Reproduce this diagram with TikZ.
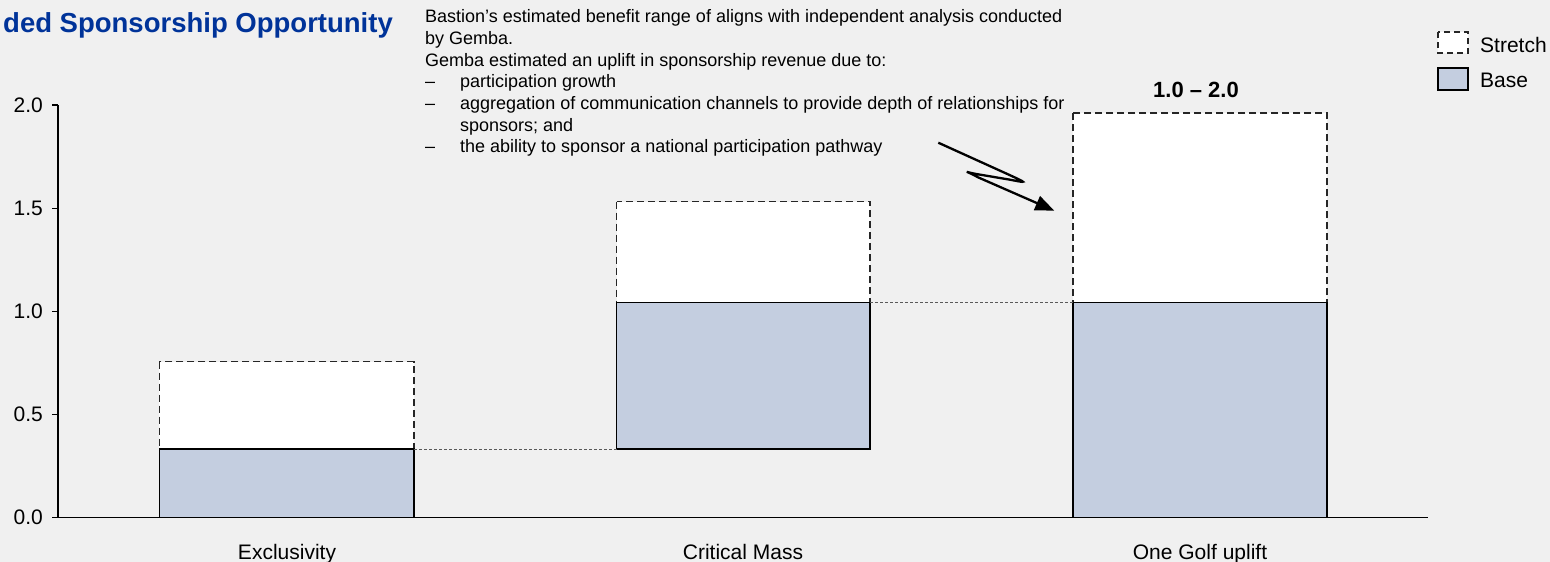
\documentclass[tikz,border=0pt]{standalone}
\usepackage{fontspec}
\setmainfont{Liberation Sans}
\usetikzlibrary{arrows.meta}
\definecolor{bg}{RGB}{240,240,240}
\definecolor{basefill}{RGB}{196,206,224}
\definecolor{titleblue}{RGB}{0,51,153}

\begin{document}
\begin{tikzpicture}[x=1pt,y=-1pt,
  stretchbar/.style={draw=black!85, fill=white, line width=1.3pt, dash pattern=on 7pt off 4pt},
  basebar/.style={draw=black, fill=basefill, line width=1.3pt},
  link/.style={draw=black!65, line width=1pt, dash pattern=on 3pt off 2pt},
  axisline/.style={draw=black, line width=1.3pt},
  ticklabel/.style={anchor=east, inner sep=0pt, font=\fontsize{21}{25}\selectfont},
  catlabel/.style={anchor=base, inner sep=0pt, font=\fontsize{21}{25}\selectfont},
  legendlabel/.style={anchor=base west, inner sep=0pt, font=\fontsize{21}{25}\selectfont},
  notetext/.style={anchor=base west, inner sep=0pt, font=\fontsize{18}{21.7}\selectfont},
  callout/.style={draw=black, line width=2.3pt, -{Triangle[length=19pt,width=15pt]}}
]
\useasboundingbox[fill=bg] (0,0) rectangle (1550,562);
\clip (0,0) rectangle (1550,562);

% heading
\node[anchor=base east, inner sep=0pt, text=titleblue,
      font=\fontsize{27.5}{32}\selectfont\bfseries] (title) at (393,32) {ded Sponsorship Opportunity};

% commentary
\node[notetext] (n1) at (425,22.7) {Bastion’s estimated benefit range of aligns with independent analysis conducted};
\node[notetext] (n2) at (425,44.4) {by Gemba.};
\node[notetext] (n3) at (425,66.1) {Gemba estimated an uplift in sponsorship revenue due to:};
\node[notetext] (d4) at (425,87.8) {–};
\node[notetext] (n4) at (460,87.8) {participation growth};
\node[notetext] (d5) at (425,109.5) {–};
\node[notetext] (n5) at (460,109.5) {aggregation of communication channels to provide depth of relationships for};
\node[notetext] (n6) at (460,131.2) {sponsors; and};
\node[notetext] (d7) at (425,152.9) {–};
\node[notetext] (n7) at (460,152.9) {the ability to sponsor a national participation pathway};

% axes
\coordinate (origin) at (58,517.7);
\coordinate (ytop) at (58,105);
\coordinate (xend) at (1428,517.7);
\draw[axisline] (ytop) -- (origin) -- (xend);
\foreach \v/\yy in {0.0/517.7, 0.5/414.5, 1.0/311.4, 1.5/208.2, 2.0/105} {
  \draw[axisline] (52,\yy) -- (58,\yy);
  \node[ticklabel] (t\v) at (43,\yy) {\v};
}

% stretch (dashed) segments
\draw[stretchbar] (159.3,361.7) rectangle (414,449);
\draw[stretchbar] (616.5,201.7) rectangle (870,302.7);
\draw[stretchbar] (1073,113) rectangle (1327,302.7);

% base segments
\draw[basebar] (159.3,449) rectangle (414,517.7);
\draw[basebar] (616.5,302.7) rectangle (870,449);
\draw[basebar] (1073,302.7) rectangle (1327,517.7);

% waterfall links
\coordinate (b1top) at (414,449);
\coordinate (b2bot) at (616.5,449);
\coordinate (b2top) at (870,302.7);
\coordinate (b3bot) at (1073,302.7);
\draw[link] (b1top) -- (b2bot);
\draw[link] (b2top) -- (b3bot);

% range label
\node[anchor=base, inner sep=0pt, font=\fontsize{22}{26}\selectfont\bfseries] (range) at (1196,97) {1.0 – 2.0};

% category labels
\node[catlabel] (c1) at (287,559) {Exclusivity};
\node[catlabel] (c2) at (743,559) {Critical Mass};
\node[catlabel] (c3) at (1200,559) {One Golf uplift};

% callout arrow: zig-zag with hairpin turns
\coordinate (a0) at (938.3,142.7);
\coordinate (a3) at (1054.3,210.7);
\draw[callout] (a0) -- (1008,174.3)
  .. controls (1028,183.5) and (1027,183) .. (1010,179.7)
  -- (978,174.3)
  .. controls (962,171.5) and (964,169.5) .. (978,177.3)
  -- (a3);

% legend
\draw[stretchbar, line width=1.2pt, dash pattern=on 6pt off 4pt] (1438,32) rectangle (1468,53);
\node[legendlabel] (lstretch) at (1480,52) {Stretch};
\draw[basebar, line width=1.5pt] (1438,68) rectangle (1468,90);
\node[legendlabel] (lbase) at (1480,87) {Base};
\end{tikzpicture}
\end{document}
